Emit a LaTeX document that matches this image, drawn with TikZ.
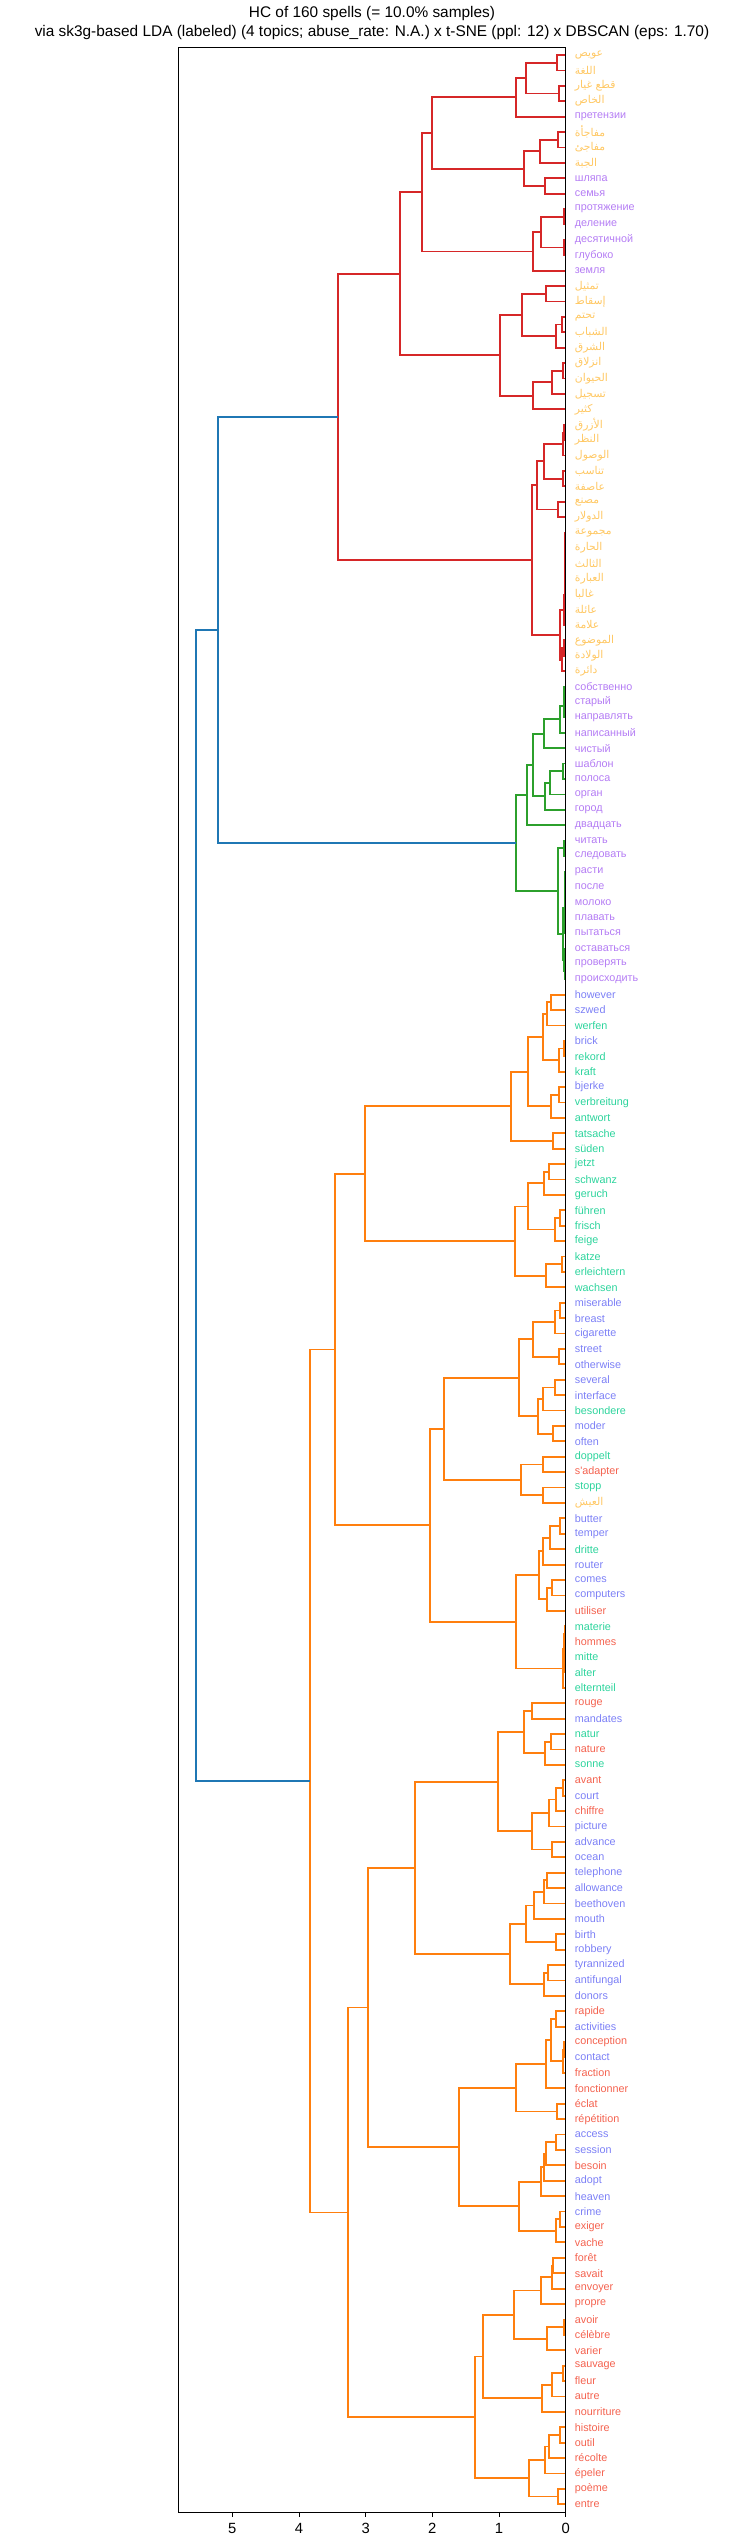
\documentclass[tikz,border=0pt]{standalone}
\usepackage{fontspec}
\setmainfont{Liberation Sans}
\newfontfamily\arabicfont[Script=Arabic]{DejaVu Sans}
\TeXXeTstate=1
\usepackage{tikz}
\usetikzlibrary{calc}

\definecolor{arcol}{HTML}{FFC864}
\definecolor{rucol}{HTML}{B47CF4}
\definecolor{encol}{HTML}{7C80F6}
\definecolor{decol}{HTML}{2CD49C}
\definecolor{frcol}{HTML}{F4624F}
\definecolor{linkred}{HTML}{D62728}
\definecolor{linkgreen}{HTML}{2CA02C}
\definecolor{linkorange}{HTML}{FF7F0E}
\definecolor{linkblue}{HTML}{1F77B4}

% merge two clusters at distance #5: name, upper child, lower child
\newcommand\mrg[5][olink]{%
  \coordinate (#2h) at (-#5,0);
  \draw[#1] (#3) -- (#3 -| #2h) -- (#4 -| #2h) -- (#4);
  \coordinate (#2) at ($(#3 -| #2h)!.5!(#4 -| #2h)$);
}

\begin{document}
\begin{tikzpicture}[
    x=66.67pt, y=-15.404pt,
    lab/.style={anchor=west, inner xsep=9pt, inner ysep=0pt, font=\fontsize{10.8}{12}\selectfont},
    arlab/.style={lab, text=arcol},
    rulab/.style={lab, text=rucol},
    enlab/.style={lab, text=encol},
    delab/.style={lab, text=decol},
    frlab/.style={lab, text=frcol},
    rlink/.style={linkred, line width=1.8pt},
    glink/.style={linkgreen, line width=1.8pt},
    olink/.style={linkorange, line width=1.8pt},
    blink/.style={linkblue, line width=1.8pt},
    spine/.style={black, line width=0.9pt},
    tick/.style={anchor=north, inner sep=0pt, yshift=-6pt, font=\fontsize{14.8}{17}\selectfont}
]
    \useasboundingbox (-565.7pt,55pt) rectangle (176.3pt,-2490pt);

    \node[align=center, font=\fontsize{15.4}{19}\selectfont] (title) at (-193.7pt,32pt)
        {HC of 160 spells (= 10.0\% samples)\\via sk3g-based LDA (labeled) (4 topics; abuse\_rate: N.A.) x t-SNE (ppl: 12) x DBSCAN (eps: 1.70)};

    % leaves
    \node[arlab] (l0) at (0,0) {\arabicfont\beginR عويص\endR};
    \node[arlab] (l1) at (0,1) {\arabicfont\beginR اللغة\endR};
    \node[arlab] (l2) at (0,2) {\arabicfont\beginR قطع غيار\endR};
    \node[arlab] (l3) at (0,3) {\arabicfont\beginR الخاص\endR};
    \node[rulab] (l4) at (0,4) {претензии};
    \node[arlab] (l5) at (0,5) {\arabicfont\beginR مفاجأة\endR};
    \node[arlab] (l6) at (0,6) {\arabicfont\beginR مفاجئ\endR};
    \node[arlab] (l7) at (0,7) {\arabicfont\beginR الجبة\endR};
    \node[rulab] (l8) at (0,8) {шляпа};
    \node[rulab] (l9) at (0,9) {семья};
    \node[rulab] (l10) at (0,10) {протяжение};
    \node[rulab] (l11) at (0,11) {деление};
    \node[rulab] (l12) at (0,12) {десятичной};
    \node[rulab] (l13) at (0,13) {глубоко};
    \node[rulab] (l14) at (0,14) {земля};
    \node[arlab] (l15) at (0,15) {\arabicfont\beginR تمثيل\endR};
    \node[arlab] (l16) at (0,16) {\arabicfont\beginR إسقاط\endR};
    \node[arlab] (l17) at (0,17) {\arabicfont\beginR تحتم\endR};
    \node[arlab] (l18) at (0,18) {\arabicfont\beginR الشباب\endR};
    \node[arlab] (l19) at (0,19) {\arabicfont\beginR الشرق\endR};
    \node[arlab] (l20) at (0,20) {\arabicfont\beginR انزلاق\endR};
    \node[arlab] (l21) at (0,21) {\arabicfont\beginR الحيوان\endR};
    \node[arlab] (l22) at (0,22) {\arabicfont\beginR تسجيل\endR};
    \node[arlab] (l23) at (0,23) {\arabicfont\beginR كثير\endR};
    \node[arlab] (l24) at (0,24) {\arabicfont\beginR الأزرق\endR};
    \node[arlab] (l25) at (0,25) {\arabicfont\beginR النظر\endR};
    \node[arlab] (l26) at (0,26) {\arabicfont\beginR الوصول\endR};
    \node[arlab] (l27) at (0,27) {\arabicfont\beginR تناسب\endR};
    \node[arlab] (l28) at (0,28) {\arabicfont\beginR عاصفة\endR};
    \node[arlab] (l29) at (0,29) {\arabicfont\beginR مصنع\endR};
    \node[arlab] (l30) at (0,30) {\arabicfont\beginR الدولار\endR};
    \node[arlab] (l31) at (0,31) {\arabicfont\beginR مجموعة\endR};
    \node[arlab] (l32) at (0,32) {\arabicfont\beginR الحارة\endR};
    \node[arlab] (l33) at (0,33) {\arabicfont\beginR الثالث\endR};
    \node[arlab] (l34) at (0,34) {\arabicfont\beginR العبارة\endR};
    \node[arlab] (l35) at (0,35) {\arabicfont\beginR غالبا\endR};
    \node[arlab] (l36) at (0,36) {\arabicfont\beginR عائلة\endR};
    \node[arlab] (l37) at (0,37) {\arabicfont\beginR علامة\endR};
    \node[arlab] (l38) at (0,38) {\arabicfont\beginR الموضوع\endR};
    \node[arlab] (l39) at (0,39) {\arabicfont\beginR الولادة\endR};
    \node[arlab] (l40) at (0,40) {\arabicfont\beginR دائرة\endR};
    \node[rulab] (l41) at (0,41) {собственно};
    \node[rulab] (l42) at (0,42) {старый};
    \node[rulab] (l43) at (0,43) {направлять};
    \node[rulab] (l44) at (0,44) {написанный};
    \node[rulab] (l45) at (0,45) {чистый};
    \node[rulab] (l46) at (0,46) {шаблон};
    \node[rulab] (l47) at (0,47) {полоса};
    \node[rulab] (l48) at (0,48) {орган};
    \node[rulab] (l49) at (0,49) {город};
    \node[rulab] (l50) at (0,50) {двадцать};
    \node[rulab] (l51) at (0,51) {читать};
    \node[rulab] (l52) at (0,52) {следовать};
    \node[rulab] (l53) at (0,53) {расти};
    \node[rulab] (l54) at (0,54) {после};
    \node[rulab] (l55) at (0,55) {молоко};
    \node[rulab] (l56) at (0,56) {плавать};
    \node[rulab] (l57) at (0,57) {пытаться};
    \node[rulab] (l58) at (0,58) {оставаться};
    \node[rulab] (l59) at (0,59) {проверять};
    \node[rulab] (l60) at (0,60) {происходить};
    \node[enlab] (l61) at (0,61) {however};
    \node[enlab] (l62) at (0,62) {szwed};
    \node[delab] (l63) at (0,63) {werfen};
    \node[enlab] (l64) at (0,64) {brick};
    \node[delab] (l65) at (0,65) {rekord};
    \node[delab] (l66) at (0,66) {kraft};
    \node[enlab] (l67) at (0,67) {bjerke};
    \node[delab] (l68) at (0,68) {verbreitung};
    \node[delab] (l69) at (0,69) {antwort};
    \node[delab] (l70) at (0,70) {tatsache};
    \node[delab] (l71) at (0,71) {süden};
    \node[delab] (l72) at (0,72) {jetzt};
    \node[delab] (l73) at (0,73) {schwanz};
    \node[delab] (l74) at (0,74) {geruch};
    \node[delab] (l75) at (0,75) {führen};
    \node[delab] (l76) at (0,76) {frisch};
    \node[delab] (l77) at (0,77) {feige};
    \node[delab] (l78) at (0,78) {katze};
    \node[delab] (l79) at (0,79) {erleichtern};
    \node[delab] (l80) at (0,80) {wachsen};
    \node[enlab] (l81) at (0,81) {miserable};
    \node[enlab] (l82) at (0,82) {breast};
    \node[enlab] (l83) at (0,83) {cigarette};
    \node[enlab] (l84) at (0,84) {street};
    \node[enlab] (l85) at (0,85) {otherwise};
    \node[enlab] (l86) at (0,86) {several};
    \node[enlab] (l87) at (0,87) {interface};
    \node[delab] (l88) at (0,88) {besondere};
    \node[enlab] (l89) at (0,89) {moder};
    \node[enlab] (l90) at (0,90) {often};
    \node[delab] (l91) at (0,91) {doppelt};
    \node[frlab] (l92) at (0,92) {s\textquotesingle adapter};
    \node[delab] (l93) at (0,93) {stopp};
    \node[arlab] (l94) at (0,94) {\arabicfont\beginR العيش\endR};
    \node[enlab] (l95) at (0,95) {butter};
    \node[enlab] (l96) at (0,96) {temper};
    \node[delab] (l97) at (0,97) {dritte};
    \node[enlab] (l98) at (0,98) {router};
    \node[enlab] (l99) at (0,99) {comes};
    \node[enlab] (l100) at (0,100) {computers};
    \node[frlab] (l101) at (0,101) {utiliser};
    \node[delab] (l102) at (0,102) {materie};
    \node[frlab] (l103) at (0,103) {hommes};
    \node[delab] (l104) at (0,104) {mitte};
    \node[delab] (l105) at (0,105) {alter};
    \node[delab] (l106) at (0,106) {elternteil};
    \node[frlab] (l107) at (0,107) {rouge};
    \node[enlab] (l108) at (0,108) {mandates};
    \node[delab] (l109) at (0,109) {natur};
    \node[frlab] (l110) at (0,110) {nature};
    \node[delab] (l111) at (0,111) {sonne};
    \node[frlab] (l112) at (0,112) {avant};
    \node[enlab] (l113) at (0,113) {court};
    \node[frlab] (l114) at (0,114) {chiffre};
    \node[enlab] (l115) at (0,115) {picture};
    \node[enlab] (l116) at (0,116) {advance};
    \node[enlab] (l117) at (0,117) {ocean};
    \node[enlab] (l118) at (0,118) {telephone};
    \node[enlab] (l119) at (0,119) {allowance};
    \node[enlab] (l120) at (0,120) {beethoven};
    \node[enlab] (l121) at (0,121) {mouth};
    \node[enlab] (l122) at (0,122) {birth};
    \node[enlab] (l123) at (0,123) {robbery};
    \node[enlab] (l124) at (0,124) {tyrannized};
    \node[enlab] (l125) at (0,125) {antifungal};
    \node[enlab] (l126) at (0,126) {donors};
    \node[frlab] (l127) at (0,127) {rapide};
    \node[enlab] (l128) at (0,128) {activities};
    \node[frlab] (l129) at (0,129) {conception};
    \node[enlab] (l130) at (0,130) {contact};
    \node[frlab] (l131) at (0,131) {fraction};
    \node[frlab] (l132) at (0,132) {fonctionner};
    \node[frlab] (l133) at (0,133) {éclat};
    \node[frlab] (l134) at (0,134) {répétition};
    \node[enlab] (l135) at (0,135) {access};
    \node[enlab] (l136) at (0,136) {session};
    \node[frlab] (l137) at (0,137) {besoin};
    \node[enlab] (l138) at (0,138) {adopt};
    \node[enlab] (l139) at (0,139) {heaven};
    \node[enlab] (l140) at (0,140) {crime};
    \node[frlab] (l141) at (0,141) {exiger};
    \node[frlab] (l142) at (0,142) {vache};
    \node[frlab] (l143) at (0,143) {forêt};
    \node[frlab] (l144) at (0,144) {savait};
    \node[frlab] (l145) at (0,145) {envoyer};
    \node[frlab] (l146) at (0,146) {propre};
    \node[frlab] (l147) at (0,147) {avoir};
    \node[frlab] (l148) at (0,148) {célèbre};
    \node[frlab] (l149) at (0,149) {varier};
    \node[frlab] (l150) at (0,150) {sauvage};
    \node[frlab] (l151) at (0,151) {fleur};
    \node[frlab] (l152) at (0,152) {autre};
    \node[frlab] (l153) at (0,153) {nourriture};
    \node[frlab] (l154) at (0,154) {histoire};
    \node[frlab] (l155) at (0,155) {outil};
    \node[frlab] (l156) at (0,156) {récolte};
    \node[frlab] (l157) at (0,157) {épeler};
    \node[frlab] (l158) at (0,158) {poème};
    \node[frlab] (l159) at (0,159) {entre};

    % red cluster
    \mrg[rlink]{g0to1}{l0}{l1}{0.135}
    \mrg[rlink]{g2to3}{l2}{l3}{0.095}
    \mrg[rlink]{g0to3}{g0to1}{g2to3}{0.595}
    \mrg[rlink]{g0to4}{g0to3}{l4}{0.75}
    \mrg[rlink]{g5to6}{l5}{l6}{0.12}
    \mrg[rlink]{g5to7}{g5to6}{l7}{0.38}
    \mrg[rlink]{g8to9}{l8}{l9}{0.31}
    \mrg[rlink]{g5to9}{g5to7}{g8to9}{0.625}
    \mrg[rlink]{g0to9}{g0to4}{g5to9}{2.01}
    \mrg[rlink]{g10to11}{l10}{l11}{0.025}
    \mrg[rlink]{g12to13}{l12}{l13}{0.025}
    \mrg[rlink]{g10to13}{g10to11}{g12to13}{0.365}
    \mrg[rlink]{g10to14}{g10to13}{l14}{0.495}
    \mrg[rlink]{g0to14}{g0to9}{g10to14}{2.16}
    \mrg[rlink]{g15to16}{l15}{l16}{0.295}
    \mrg[rlink]{g17to18}{l17}{l18}{0.055}
    \mrg[rlink]{g17to19}{g17to18}{l19}{0.15}
    \mrg[rlink]{g15to19}{g15to16}{g17to19}{0.655}
    \mrg[rlink]{g20to21}{l20}{l21}{0.04}
    \mrg[rlink]{g20to22}{g20to21}{l22}{0.21}
    \mrg[rlink]{g20to23}{g20to22}{l23}{0.495}
    \mrg[rlink]{g15to23}{g15to19}{g20to23}{0.99}
    \mrg[rlink]{g0to23}{g0to14}{g15to23}{2.485}
    \mrg[rlink]{g24to25}{l24}{l25}{0.03}
    \mrg[rlink]{g24to26}{g24to25}{l26}{0.045}
    \mrg[rlink]{g27to28}{l27}{l28}{0.04}
    \mrg[rlink]{g24to28}{g24to26}{g27to28}{0.33}
    \mrg[rlink]{g29to30}{l29}{l30}{0.12}
    \mrg[rlink]{g24to30}{g24to28}{g29to30}{0.425}
    \mrg[rlink]{g31to32}{l31}{l32}{0.005}
    \mrg[rlink]{g31to33}{g31to32}{l33}{0.008}
    \mrg[rlink]{g31to34}{g31to33}{l34}{0.01}
    \mrg[rlink]{g31to35}{g31to34}{l35}{0.012}
    \mrg[rlink]{g31to36}{g31to35}{l36}{0.015}
    \mrg[rlink]{g31to37}{g31to36}{l37}{0.02}
    \mrg[rlink]{g38to39}{l38}{l39}{0.03}
    \mrg[rlink]{g38to40}{g38to39}{l40}{0.05}
    \mrg[rlink]{g31to40}{g31to37}{g38to40}{0.085}
    \mrg[rlink]{g24to40}{g24to30}{g31to40}{0.51}
    \mrg[rlink]{g0to40}{g0to23}{g24to40}{3.42}

    % green cluster
    \mrg[glink]{g41to42}{l41}{l42}{0.02}
    \mrg[glink]{g41to43}{g41to42}{l43}{0.03}
    \mrg[glink]{g41to44}{g41to43}{l44}{0.085}
    \mrg[glink]{g41to45}{g41to44}{l45}{0.33}
    \mrg[glink]{g46to47}{l46}{l47}{0.04}
    \mrg[glink]{g46to48}{g46to47}{l48}{0.235}
    \mrg[glink]{g46to49}{g46to48}{l49}{0.315}
    \mrg[glink]{g41to49}{g41to45}{g46to49}{0.49}
    \mrg[glink]{g41to50}{g41to49}{l50}{0.58}
    \mrg[glink]{g51to52}{l51}{l52}{0.02}
    \mrg[glink]{g53to54}{l53}{l54}{0.005}
    \mrg[glink]{g53to55}{g53to54}{l55}{0.008}
    \mrg[glink]{g56to57}{l56}{l57}{0.005}
    \mrg[glink]{g53to57}{g53to55}{g56to57}{0.012}
    \mrg[glink]{g59to60}{l59}{l60}{0.01}
    \mrg[glink]{g58to60}{l58}{g59to60}{0.02}
    \mrg[glink]{g53to60}{g53to57}{g58to60}{0.035}
    \mrg[glink]{g51to60}{g51to52}{g53to60}{0.12}
    \mrg[glink]{g41to60}{g41to50}{g51to60}{0.75}

    \mrg[blink]{g0to60}{g0to40}{g41to60}{5.22}

    % orange cluster, upper half
    \mrg{g61to62}{l61}{l62}{0.225}
    \mrg{g61to63}{g61to62}{l63}{0.275}
    \mrg{g64to65}{l64}{l65}{0.025}
    \mrg{g64to66}{g64to65}{l66}{0.095}
    \mrg{g61to66}{g61to63}{g64to66}{0.345}
    \mrg{g67to68}{l67}{l68}{0.095}
    \mrg{g67to69}{g67to68}{l69}{0.225}
    \mrg{g61to69}{g61to66}{g67to69}{0.57}
    \mrg{g70to71}{l70}{l71}{0.19}
    \mrg{g61to71}{g61to69}{g70to71}{0.825}
    \mrg{g72to73}{l72}{l73}{0.25}
    \mrg{g72to74}{g72to73}{l74}{0.33}
    \mrg{g75to76}{l75}{l76}{0.085}
    \mrg{g75to77}{g75to76}{l77}{0.165}
    \mrg{g72to77}{g72to74}{g75to77}{0.57}
    \mrg{g78to79}{l78}{l79}{0.05}
    \mrg{g78to80}{g78to79}{l80}{0.30}
    \mrg{g72to80}{g72to77}{g78to80}{0.765}
    \mrg{g61to80}{g61to71}{g72to80}{3.015}
    \mrg{g81to82}{l81}{l82}{0.085}
    \mrg{g81to83}{g81to82}{l83}{0.165}
    \mrg{g84to85}{l84}{l85}{0.095}
    \mrg{g81to85}{g81to83}{g84to85}{0.495}
    \mrg{g86to87}{l86}{l87}{0.155}
    \mrg{g86to88}{g86to87}{l88}{0.345}
    \mrg{g89to90}{l89}{l90}{0.19}
    \mrg{g86to90}{g86to88}{g89to90}{0.42}
    \mrg{g81to90}{g81to85}{g86to90}{0.705}
    \mrg{g91to92}{l91}{l92}{0.345}
    \mrg{g93to94}{l93}{l94}{0.345}
    \mrg{g91to94}{g91to92}{g93to94}{0.665}
    \mrg{g81to94}{g81to90}{g91to94}{1.83}
    \mrg{g95to96}{l95}{l96}{0.085}
    \mrg{g95to97}{g95to96}{l97}{0.235}
    \mrg{g95to98}{g95to97}{l98}{0.345}
    \mrg{g99to100}{l99}{l100}{0.205}
    \mrg{g99to101}{g99to100}{l101}{0.285}
    \mrg{g95to101}{g95to98}{g99to101}{0.405}
    \mrg{g102to103}{l102}{l103}{0.005}
    \mrg{g104to105}{l104}{l105}{0.005}
    \mrg{g102to105}{g102to103}{g104to105}{0.02}
    \mrg{g102to106}{g102to105}{l106}{0.045}
    \mrg{g95to106}{g95to101}{g102to106}{0.75}
    \mrg{g81to106}{g81to94}{g95to106}{2.03}
    \mrg{g61to106}{g61to80}{g81to106}{3.465}

    % orange cluster, lower half
    \mrg{g107to108}{l107}{l108}{0.505}
    \mrg{g109to110}{l109}{l110}{0.225}
    \mrg{g109to111}{g109to110}{l111}{0.315}
    \mrg{g107to111}{g107to108}{g109to111}{0.63}
    \mrg{g112to113}{l112}{l113}{0.045}
    \mrg{g112to114}{g112to113}{l114}{0.14}
    \mrg{g112to115}{g112to114}{l115}{0.245}
    \mrg{g116to117}{l116}{l117}{0.21}
    \mrg{g112to117}{g112to115}{g116to117}{0.505}
    \mrg{g107to117}{g107to111}{g112to117}{1.015}
    \mrg{g118to119}{l118}{l119}{0.285}
    \mrg{g118to120}{g118to119}{l120}{0.33}
    \mrg{g118to121}{g118to120}{l121}{0.48}
    \mrg{g122to123}{l122}{l123}{0.15}
    \mrg{g118to123}{g118to121}{g122to123}{0.60}
    \mrg{g124to125}{l124}{l125}{0.27}
    \mrg{g124to126}{g124to125}{l126}{0.33}
    \mrg{g118to126}{g118to123}{g124to126}{0.84}
    \mrg{g107to126}{g107to117}{g118to126}{2.26}
    \mrg{g127to128}{l127}{l128}{0.15}
    \mrg{g129to130}{l129}{l130}{0.02}
    \mrg{g129to131}{g129to130}{l131}{0.035}
    \mrg{g127to131}{g127to128}{g129to131}{0.225}
    \mrg{g127to132}{g127to131}{l132}{0.30}
    \mrg{g133to134}{l133}{l134}{0.135}
    \mrg{g127to134}{g127to132}{g133to134}{0.75}
    \mrg{g135to136}{l135}{l136}{0.15}
    \mrg{g135to137}{g135to136}{l137}{0.30}
    \mrg{g135to138}{g135to137}{l138}{0.33}
    \mrg{g135to139}{g135to138}{l139}{0.37}
    \mrg{g140to141}{l140}{l141}{0.08}
    \mrg{g140to142}{g140to141}{l142}{0.14}
    \mrg{g135to142}{g135to139}{g140to142}{0.705}
    \mrg{g127to142}{g127to134}{g135to142}{1.605}
    \mrg{g107to142}{g107to126}{g127to142}{2.97}
    \mrg{g143to144}{l143}{l144}{0.195}
    \mrg{g143to145}{g143to144}{l145}{0.205}
    \mrg{g143to146}{g143to145}{l146}{0.37}
    \mrg{g147to148}{l147}{l148}{0.02}
    \mrg{g147to149}{g147to148}{l149}{0.285}
    \mrg{g143to149}{g143to146}{g147to149}{0.78}
    \mrg{g150to151}{l150}{l151}{0.04}
    \mrg{g150to152}{g150to151}{l152}{0.21}
    \mrg{g150to153}{g150to152}{l153}{0.36}
    \mrg{g143to153}{g143to149}{g150to153}{1.24}
    \mrg{g154to155}{l154}{l155}{0.085}
    \mrg{g154to156}{g154to155}{l156}{0.25}
    \mrg{g154to157}{g154to156}{l157}{0.315}
    \mrg{g158to159}{l158}{l159}{0.12}
    \mrg{g154to159}{g154to157}{g158to159}{0.555}
    \mrg{g143to159}{g143to153}{g154to159}{1.36}
    \mrg{g107to159}{g107to142}{g143to159}{3.27}
    \mrg{g61to159}{g61to106}{g107to159}{3.835}

    \mrg[blink]{g0to159}{g0to60}{g61to159}{5.545}

    % axes
    \draw[spine] (-5.81,-0.5) rectangle (0,159.5);
    \draw[spine] (-5,159.5) -- ++(0pt,-4.7pt) node[tick] (t5) {5};
    \draw[spine] (-4,159.5) -- ++(0pt,-4.7pt) node[tick] (t4) {4};
    \draw[spine] (-3,159.5) -- ++(0pt,-4.7pt) node[tick] (t3) {3};
    \draw[spine] (-2,159.5) -- ++(0pt,-4.7pt) node[tick] (t2) {2};
    \draw[spine] (-1,159.5) -- ++(0pt,-4.7pt) node[tick] (t1) {1};
    \draw[spine] (0,159.5) -- ++(0pt,-4.7pt) node[tick] (t0) {0};
\end{tikzpicture}
\end{document}
